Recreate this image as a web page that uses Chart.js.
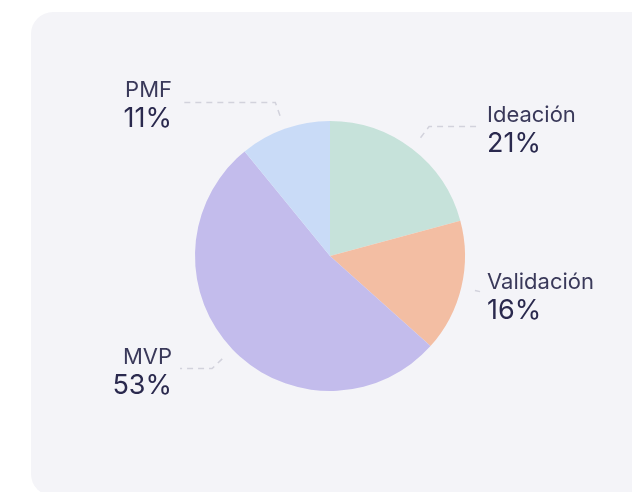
<!DOCTYPE html>
<html>
<head>
<meta charset="utf-8">
<script src="https://cdn.jsdelivr.net/npm/chart.js@4.4.1/dist/chart.umd.min.js"></script>
<style>
  html, body { margin: 0; padding: 0; background: #ffffff; overflow: hidden; }
  .card {
    position: absolute; left: 31px; top: 12px; width: 640px; height: 484px;
    background: #f4f4f8; border-radius: 22px;
  }
  .wrap { position: absolute; left: 0; top: 0; width: 632px; height: 492px; }
</style>
</head>
<body>
<div class="card"></div>
<div class="wrap"><canvas id="stagesPie"></canvas></div>
<script>
// etapas de las startups
const stages = ['Ideación', 'Validación', 'MVP', 'PMF'];
const shares = [21, 16, 53, 11];
const shareLabels = ['21%', '16%', '53%', '11%'];
const sliceColors = ['#c6e2da', '#f3bea3', '#c3bcec', '#c9dbf7'];

// lineas punteadas + etiquetas afuera del pie
const outerLabels = {
  id: 'outerLabels',
  afterDraw(chart) {
    const ctx = chart.ctx;
    const meta = chart.getDatasetMeta(0);
    meta.data.forEach((arc, i) => {
      const { x, y, startAngle, endAngle, outerRadius } =
        arc.getProps(['x', 'y', 'startAngle', 'endAngle', 'outerRadius'], true);
      const mid = (startAngle + endAngle) / 2;
      const cos = Math.cos(mid), sin = Math.sin(mid);
      const right = cos >= 0;

      const textX = right ? x + outerRadius + 22 : x - outerRadius - 23;
      const lineEnd = right ? textX - 7 : textX + 8;

      const p1 = { x: x + cos * (outerRadius + 14), y: y + sin * (outerRadius + 14) };
      let p2 = { x: x + cos * (outerRadius + 28), y: y + sin * (outerRadius + 28) };
      const labelY = p2.y;
      if ((right && p2.x > lineEnd) || (!right && p2.x < lineEnd)) {
        const t = (lineEnd - x) / cos;
        p2 = { x: lineEnd, y: y + sin * t };
      }

      ctx.save();
      ctx.strokeStyle = '#d2d2dc';
      ctx.lineWidth = 1.5;
      ctx.setLineDash([6, 5]);
      ctx.beginPath();
      ctx.moveTo(p1.x, p1.y);
      ctx.lineTo(p2.x, p2.y);
      ctx.lineTo(lineEnd, p2.y);
      ctx.stroke();
      ctx.restore();

      ctx.save();
      ctx.textAlign = right ? 'left' : 'right';
      ctx.textBaseline = 'alphabetic';
      ctx.fillStyle = '#3a395a';
      ctx.font = '400 22px Inter';
      ctx.fillText(stages[i], textX, labelY - 5);
      ctx.fillStyle = '#2a294e';
      ctx.font = '400 27px Inter';
      ctx.fillText(shareLabels[i], textX, labelY + 25);
      ctx.restore();
    });
  }
};

const ctx = document.getElementById('stagesPie');

new Chart(ctx, {
  type: 'pie',
  data: {
    labels: stages,
    datasets: [{
      data: shares,
      backgroundColor: sliceColors,
      borderWidth: 0
    }]
  },
  options: {
    responsive: true,
    maintainAspectRatio: false,
    animation: false,
    layout: {
      padding: { left: 195, right: 167, top: 121, bottom: 101 }
    },
    plugins: {
      legend: { display: false },
      tooltip: { enabled: false }
    }
  },
  plugins: [outerLabels]
});
</script>
</body>
</html>
